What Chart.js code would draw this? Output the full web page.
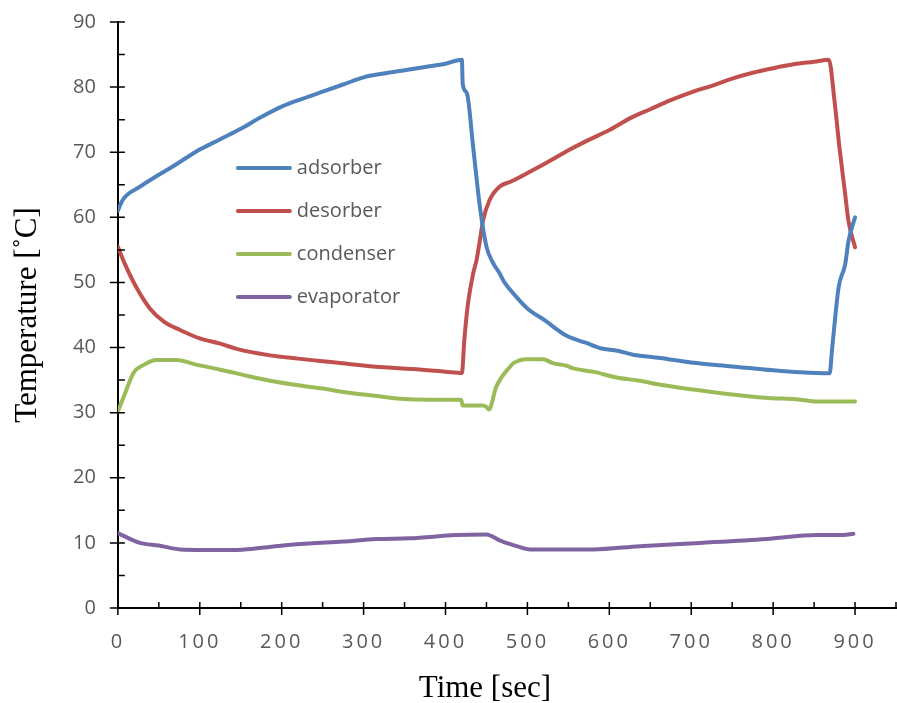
<!DOCTYPE html>
<html>
<head>
<meta charset="utf-8">
<script src="https://cdn.jsdelivr.net/npm/chart.js@4"></script>
<style>
  html, body { margin: 0; padding: 0; background: #fff; }
</style>
</head>
<body>
<canvas id="tempChart" width="897" height="703"></canvas>
<script>
// readings taken off the original plot (time in sec, temperature in ˚C)
const adsorberTime = [0, 6, 27, 47, 67, 88, 100, 125, 150, 175, 200, 225, 250, 275, 300, 325, 350, 375, 400, 420, 421, 426, 434, 442, 450, 458, 466, 472, 485, 500, 521, 548, 572, 589, 610, 629, 662, 700, 750, 800, 833, 869, 872, 880, 888, 892, 900];
const adsorberTemp = [61, 62.7, 64.7, 66.3, 67.8, 69.5, 70.4, 72, 73.6, 75.4, 77, 78.2, 79.3, 80.4, 81.5, 82.1, 82.6, 83.1, 83.6, 84.2, 80.5, 79.1, 70.5, 61.6, 55.5, 53, 51.4, 50, 48, 46, 44.2, 41.8, 40.7, 39.9, 39.5, 38.9, 38.4, 37.7, 37.1, 36.5, 36.2, 36.05, 39.8, 49.3, 52.8, 56.4, 60];

const desorberTime = [0, 8, 21, 39, 57, 76, 100, 125, 145, 186, 220, 250, 280, 320, 360, 400, 420, 423, 427, 434, 438, 442, 446, 454, 466, 480, 500, 525, 550, 575, 600, 625, 650, 675, 700, 725, 750, 775, 800, 825, 850, 868, 875, 881, 888, 892, 900];
const desorberTemp = [55.5, 53, 49.6, 46, 43.9, 42.7, 41.4, 40.6, 39.8, 38.8, 38.3, 37.9, 37.5, 37, 36.7, 36.3, 36.1, 41.2, 46.3, 51.5, 53.5, 56.5, 59.6, 62.7, 64.7, 65.5, 66.8, 68.5, 70.3, 71.9, 73.4, 75.2, 76.6, 78, 79.2, 80.2, 81.3, 82.2, 82.9, 83.5, 83.9, 84.2, 77.8, 70.7, 63.5, 59.4, 55.4];

const condenserTime = [0, 8, 19, 31, 47, 72, 92, 125, 153, 186, 220, 250, 280, 320, 350, 380, 419, 421, 445, 450, 453, 462, 479, 483, 499, 519, 531, 548, 556, 580, 609, 637, 662, 700, 750, 790, 833, 853, 900];
const condenserTemp = [30.2, 32.7, 36.1, 37.3, 38.1, 38.1, 37.5, 36.6, 35.8, 34.9, 34.2, 33.7, 33.1, 32.5, 32.1, 32, 32, 31.1, 31.1, 30.9, 30.5, 34, 37.1, 37.6, 38.2, 38.2, 37.6, 37.2, 36.8, 36.3, 35.4, 34.9, 34.3, 33.6, 32.8, 32.3, 32, 31.7, 31.7];

const evaporatorTime = [0, 27, 50, 76, 141, 173, 202, 234, 275, 316, 356, 413, 450, 466, 479, 487, 503, 580, 637, 711, 792, 853, 886, 898];
const evaporatorTemp = [11.5, 10, 9.6, 9, 8.9, 9.2, 9.6, 9.9, 10.2, 10.6, 10.7, 11.2, 11.3, 10.4, 9.8, 9.5, 9, 9, 9.5, 10, 10.6, 11.2, 11.2, 11.4];

const seriesNames = ["adsorber", "desorber", "condenser", "evaporator"];
const seriesColors = ["#4F81BD", "#C0504D", "#9BBB59", "#8064A2"];
const timeTicks = [0, 100, 200, 300, 400, 500, 600, 700, 800, 900];
const xTitle = "Time [sec]";
const yTitle = "Temperature [˚C]";

const pts = (ts, vs) => ts.map((t, i) => ({ x: t, y: vs[i] }));

const seriesData = [
  pts(adsorberTime, adsorberTemp),
  pts(desorberTime, desorberTemp),
  pts(condenserTime, condenserTemp),
  pts(evaporatorTime, evaporatorTemp),
];

// excel style tick marks: majors cross the axis, minors point inside
const tickMarks = {
  id: "tickMarks",
  afterDatasetsDraw(chart) {
    const { ctx, scales } = chart;
    const x = scales.x;
    const y = scales.y;
    const left = x.left;
    const bottom = y.bottom;
    ctx.save();
    ctx.strokeStyle = "#000";
    ctx.lineWidth = 1.5;
    ctx.beginPath();
    for (let v = 0; v <= 90; v += 5) {
      const py = y.getPixelForValue(v);
      const major = v % 10 === 0;
      ctx.moveTo(major ? left - 8 : left, py);
      ctx.lineTo(left + 7, py);
    }
    for (let v = 0; v <= 950; v += 50) {
      const px = x.getPixelForValue(v);
      const major = v % 100 === 0;
      ctx.moveTo(px, bottom - 6);
      ctx.lineTo(px, major ? bottom + 7 : bottom);
    }
    ctx.stroke();
    ctx.restore();
  },
};

// legend sits inside the plot area, x title sits a bit left of centre
const insideLegend = {
  id: "insideLegend",
  afterDraw(chart) {
    const { ctx, chartArea } = chart;
    ctx.save();
    ctx.font = "20px 'Open Sans'";
    ctx.textBaseline = "middle";
    chart.data.datasets.forEach((ds, i) => {
      const lx = chartArea.left + 120;
      const ly = chartArea.top + 146 + i * 43;
      ctx.strokeStyle = ds.borderColor;
      ctx.lineWidth = 4;
      ctx.lineCap = "round";
      ctx.beginPath();
      ctx.moveTo(lx, ly);
      ctx.lineTo(lx + 52, ly);
      ctx.stroke();
      ctx.fillStyle = "#595959";
      ctx.fillText(ds.label, lx + 59, ly);
    });

    ctx.font = "31px 'Liberation Serif'";
    ctx.fillStyle = "#000";
    ctx.textAlign = "center";
    ctx.fillText(xTitle, (chartArea.left + chartArea.right) / 2 - 22, chart.height - 14);
    ctx.restore();
  },
};

// wider spacing for the time labels
const spacedLabels = {
  id: "spacedLabels",
  afterUpdate(chart) {
    const s = chart.scales.x;
    if (s._spaced) return;
    const orig = s.drawLabels.bind(s);
    s.drawLabels = function (area) {
      this.ctx.save();
      this.ctx.letterSpacing = "3px";
      orig(area);
      this.ctx.restore();
    };
    s._spaced = true;
  },
};

new Chart(document.getElementById("tempChart").getContext("2d"), {
  type: "line",
  data: {
    datasets: seriesData.map((d, i) => ({
      label: seriesNames[i],
      data: d,
      borderColor: seriesColors[i],
      backgroundColor: seriesColors[i],
      borderWidth: 4,
      pointRadius: 0,
      cubicInterpolationMode: "monotone",
      borderCapStyle: "round",
      borderJoinStyle: "round",
    })),
  },
  options: {
    responsive: false,
    animation: false,
    layout: {
      padding: { top: 0, right: 1, bottom: 27, left: 0 },
    },
    plugins: {
      legend: { display: false },
      tooltip: { enabled: false },
    },
    scales: {
      x: {
        type: "linear",
        min: 0,
        max: 950,
        afterBuildTicks: (scale) => {
          scale.ticks = timeTicks.map((v) => ({ value: v }));
        },
        ticks: {
          autoSkip: false,
          maxRotation: 0,
          padding: 22,
          color: "#595959",
          font: { family: "'Open Sans'", size: 20 },
        },
        grid: { display: false, drawTicks: false },
        border: { display: true, color: "#000", width: 2 },
      },
      y: {
        min: 0,
        max: 90,
        ticks: {
          stepSize: 10,
          padding: 10,
          color: "#595959",
          font: { family: "'Open Sans'", size: 20 },
        },
        // ticks themselves are drawn by tickMarks, tickLength only spaces the labels
        grid: { display: false, drawTicks: true, tickLength: 12 },
        border: { display: true, color: "#000", width: 2 },
        title: {
          display: true,
          text: yTitle,
          color: "#000",
          font: { family: "'Liberation Serif'", size: 31, lineHeight: 1 },
          padding: { top: 12, bottom: 20 },
        },
      },
    },
  },
  plugins: [tickMarks, insideLegend, spacedLabels],
});
</script>
</body>
</html>
